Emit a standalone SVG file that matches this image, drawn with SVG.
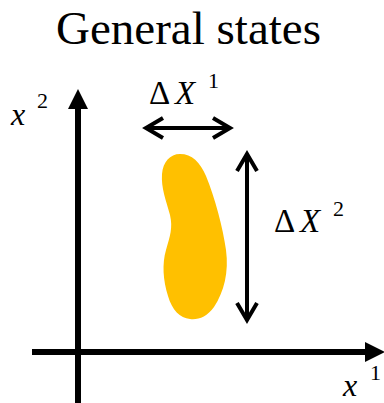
<svg xmlns="http://www.w3.org/2000/svg" width="384" height="403" viewBox="0 0 384 403">
<defs>
<marker id="tri" markerUnits="userSpaceOnUse" markerWidth="22" markerHeight="22" viewBox="0 -11 22 22" refX="0" refY="0" orient="auto">
<path d="M0,-10 L20,0 L0,10 Z" fill="#000"/>
</marker>
<marker id="chev" markerUnits="userSpaceOnUse" markerWidth="24" markerHeight="24" viewBox="-20 -12 24 24" refX="0" refY="0" orient="auto-start-reverse">
<path d="M-17,-10 L0,0 L-17,10" fill="none" stroke="#000" stroke-width="4"/>
</marker>
</defs>
<g id="title"><text x="188.5" y="44" font-size="47" text-anchor="middle" font-family="'Liberation Serif', 'DejaVu Serif', serif">General states</text></g>
<g id="label-x2"><text x="11" y="125" font-size="32" font-style="italic" font-family="'Liberation Serif', 'DejaVu Serif', serif">x</text><text x="37" y="108" font-size="22" font-family="'Liberation Serif', 'DejaVu Serif', serif">2</text></g>
<g id="label-x1"><text x="343" y="396" font-size="32" font-style="italic" font-family="'Liberation Serif', 'DejaVu Serif', serif">x</text><text x="370" y="380" font-size="22" font-family="'Liberation Serif', 'DejaVu Serif', serif">1</text></g>
<g id="label-dx1"><text x="149" y="104" font-size="33" font-family="'Liberation Serif', 'DejaVu Serif', serif">Δ</text><text x="175" y="104" font-size="33" font-style="italic" font-family="'Liberation Serif', 'DejaVu Serif', serif">X</text><text x="208" y="88" font-size="22" font-family="'Liberation Serif', 'DejaVu Serif', serif">1</text></g>
<g id="label-dx2"><text x="274" y="232" font-size="33" font-family="'Liberation Serif', 'DejaVu Serif', serif">Δ</text><text x="300" y="232" font-size="33" font-style="italic" font-family="'Liberation Serif', 'DejaVu Serif', serif">X</text><text x="333" y="216" font-size="22" font-family="'Liberation Serif', 'DejaVu Serif', serif">2</text></g>
<g id="blob"><path d="M180,154 C192,154 200,162 206,176 C215,198 223,228 226,250 C229,272 224,292 214,307 C207,317 198,320 190,319 C180,318 172,310 168,296 C163,280 162,264 166,250 C170,236 173,228 170,215 C166,200 161,188 162,174 C163,162 170,154 180,154 Z" fill="#FFC000"/></g>
<g id="connectors" stroke="#000" fill="none">
<line x1="78" y1="403" x2="78" y2="109" stroke-width="6" marker-end="url(#tri)"/>
<line x1="32" y1="352" x2="365" y2="352" stroke-width="6" marker-end="url(#tri)"/>
<line x1="146" y1="128" x2="230" y2="128" stroke-width="4" marker-start="url(#chev)" marker-end="url(#chev)"/>
<line x1="247" y1="154" x2="247" y2="320" stroke-width="4" marker-start="url(#chev)" marker-end="url(#chev)"/>
</g>
</svg>
